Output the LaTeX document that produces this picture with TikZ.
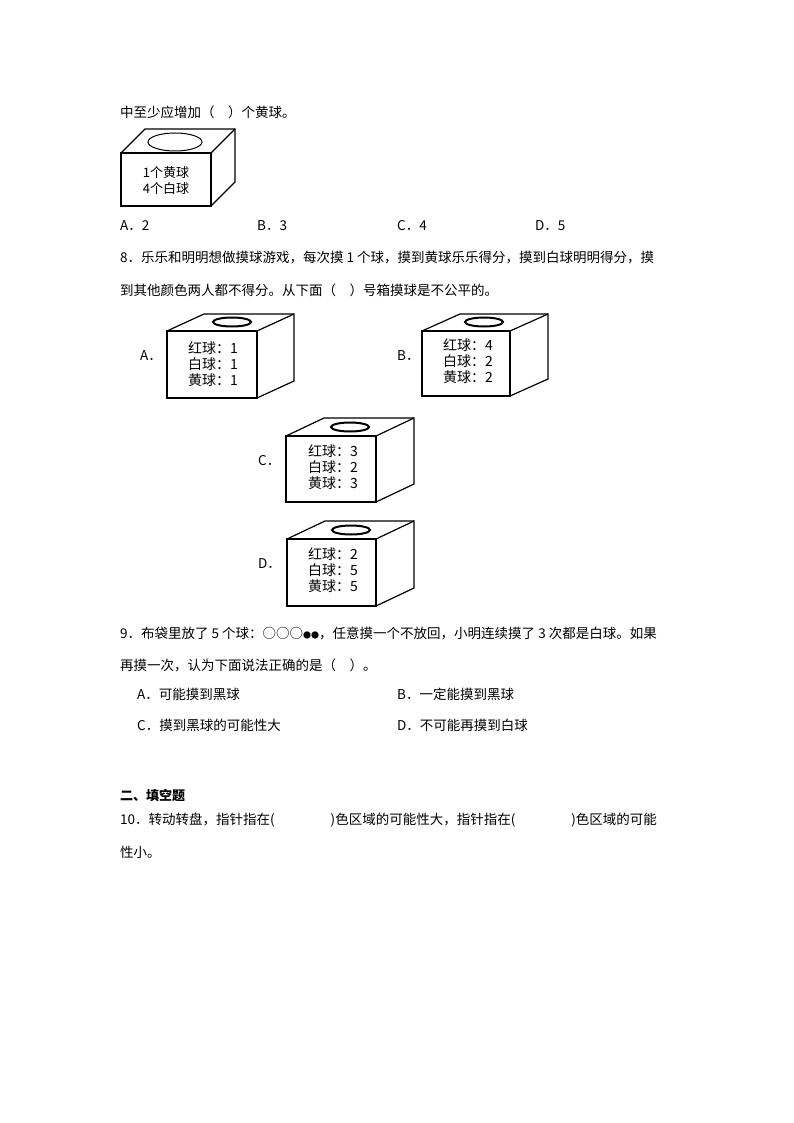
\documentclass[tikz,border=0pt]{standalone}
\usepackage{fontspec}
\setmainfont{Noto Sans CJK SC}
\newfontfamily\serifnum{Liberation Serif}
\begin{document}
\begin{tikzpicture}[x=1pt,y=-1pt,
  txt/.style={anchor=west,inner sep=0pt,font=\fontsize{13.5}{14}\selectfont},
  boxtxt/.style={align=center,inner sep=0pt,font=\fontsize{14}{16}\selectfont},
  edge/.style={line width=1.2pt,line join=miter}]
\useasboundingbox (0,0) rectangle (794,1123);
\newcommand\cube[9]{% x1 y1 x2 y2 dx dy ex ey name
  \draw[edge,fill=white] (#1,#2) rectangle (#3,#4);
  \draw[edge] (#1,#2) -- ++(#5,#6) -- (#3+#5,#6+#2) -- (#3+#5,#4+#6) -- (#3,#4);
  \draw[edge] (#3,#2) -- (#3+#5,#2+#6);
}
% line 1
\node[txt] (l1) at (120,112) {中至少应增加（\quad ）个黄球。};
\cube{121}{153}{211}{206}{24}{-24}{}{}{}
\draw[line width=1pt] (175,142) ellipse (27 and 9);
\node[boxtxt,font=\fontsize{13}{16}\selectfont] (b1) at (166,181) {1个黄球\\4个白球};
\node[txt] (o1) at (120,226) {A．2};
\node[txt] (o2) at (257,226) {B．3};
\node[txt] (o3) at (397,226) {C．4};
\node[txt] (o4) at (535,226) {D．5};
% Q8
\node[txt] (q8a) at (120,258) {8．乐乐和明明想做摸球游戏，每次摸 1 个球，摸到黄球乐乐得分，摸到白球明明得分，摸};
\node[txt] (q8b) at (120,290) {到其他颜色两人都不得分。从下面（\quad ）号箱摸球是不公平的。};
% boxes
\cube{167}{331}{257}{398}{37}{-17}{}{}{}
\draw[line width=2pt] (232,322) ellipse (19 and 4.5);
\node[boxtxt] (ba) at (213,364) {红球：1\\白球：1\\黄球：1};
\node[txt] (la) at (140,356) {A．};
\cube{422}{331}{510}{396}{38}{-17}{}{}{}
\draw[line width=2pt] (484,322) ellipse (19 and 4.5);
\node[boxtxt] (bb) at (468,361) {红球：4\\白球：2\\黄球：2};
\node[txt] (lb) at (397,356) {B．};
\cube{286}{436}{376}{502}{38}{-18}{}{}{}
\draw[line width=2pt] (350,427) ellipse (19 and 4.5);
\node[boxtxt] (bc) at (333,467) {红球：3\\白球：2\\黄球：3};
\node[txt] (lc) at (258,461) {C．};
\cube{287}{539}{376}{606}{38}{-18}{}{}{}
\draw[line width=2pt] (351,530) ellipse (19 and 4.5);
\node[boxtxt] (bd) at (333,570) {红球：2\\白球：5\\黄球：5};
\node[txt] (ld) at (258,564) {D．};
% Q9
\node[txt] (q9a) at (120,633) {9．布袋里放了 5 个球：○○○{\fontsize{8}{8}\selectfont ●●}，任意摸一个不放回，小明连续摸了 3 次都是白球。如果};
\node[txt] (q9b) at (120,665) {再摸一次，认为下面说法正确的是（\quad ）。};
\node[txt] (p1) at (137,694) {A．可能摸到黑球};
\node[txt] (p2) at (397,694) {B．一定能摸到黑球};
\node[txt] (p3) at (137,725) {C．摸到黑球的可能性大};
\node[txt] (p4) at (397,725) {D．不可能再摸到白球};
% section
\node[txt,font=\bfseries\fontsize{13}{14}\selectfont] (sec) at (120,795) {二、填空题};
\node[txt] (q10a) at (120,820) {10．转动转盘，指针指在(\hspace{56pt})色区域的可能性大，指针指在(\hspace{56pt})色区域的可能};
\node[txt] (q10b) at (120,852) {性小。};
\end{tikzpicture}
\end{document}
